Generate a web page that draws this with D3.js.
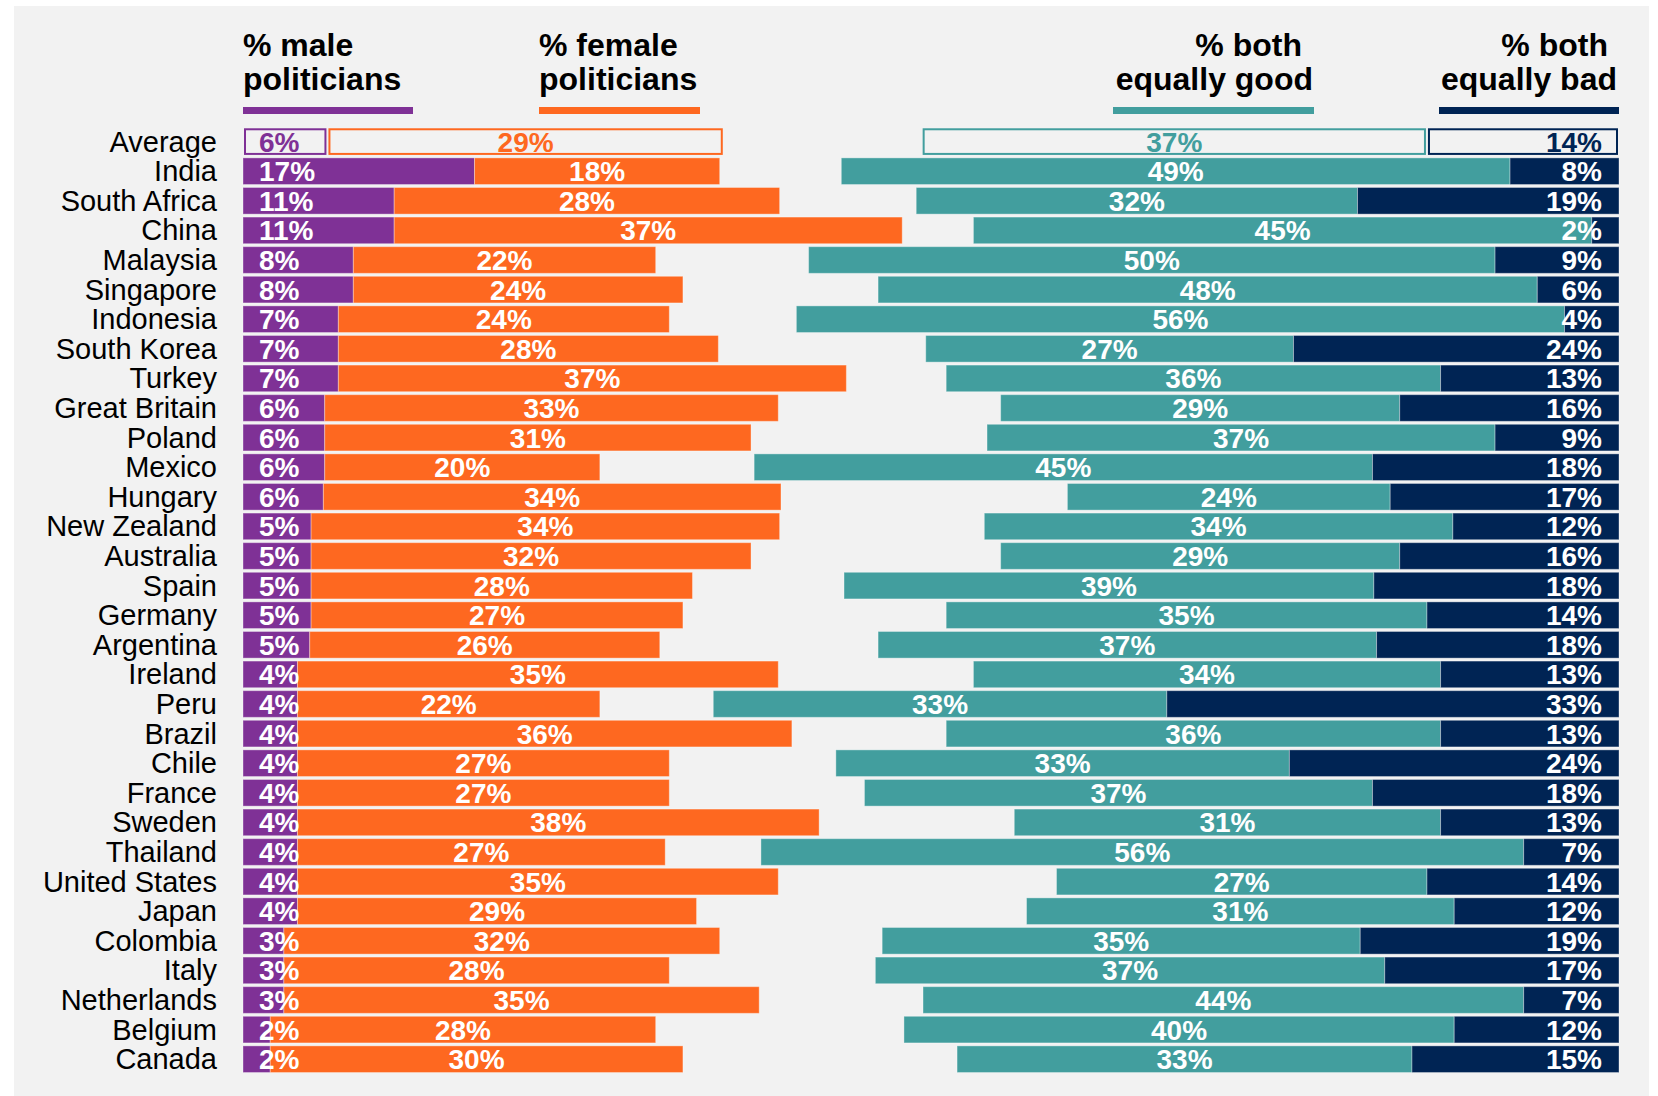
<!DOCTYPE html>
<html>
<head>
<meta charset="utf-8">
<script src="https://cdn.jsdelivr.net/npm/d3@7/dist/d3.min.js"></script>
<style>
body { margin: 0; background: #ffffff; }
svg { display: block; font-family: "Liberation Sans", Arial, Helvetica, sans-serif; }
</style>
</head>
<body>
<div id="chart"></div>
<script>
// rows, top to bottom (first row is the average, drawn as outlined boxes)
var countries = ["Average", "India", "South Africa", "China", "Malaysia", "Singapore", "Indonesia",
	"South Korea", "Turkey", "Great Britain", "Poland", "Mexico", "Hungary", "New Zealand",
	"Australia", "Spain", "Germany", "Argentina", "Ireland", "Peru", "Brazil", "Chile", "France",
	"Sweden", "Thailand", "United States", "Japan", "Colombia", "Italy", "Netherlands", "Belgium", "Canada"];

var male   = [6.2, 17.0, 11.1, 11.1, 8.1, 8.1, 7.0, 7.0, 7.0, 6.0, 6.0, 6.0, 5.9, 5.0, 5.0, 5.0, 5.0,
	4.9, 4.0, 4.0, 4.0, 4.0, 4.0, 4.0, 4.0, 4.0, 4.0, 3.0, 3.0, 3.0, 2.0, 2.0];
var female = [29.1, 18.0, 28.3, 37.3, 22.2, 24.2, 24.3, 27.9, 37.3, 33.3, 31.3, 20.2, 33.6, 34.4, 32.3,
	28.0, 27.3, 25.7, 35.3, 22.2, 36.3, 27.3, 27.3, 38.3, 27.0, 35.3, 29.3, 32.0, 28.3, 34.9, 28.3, 30.3];
var good   = [37.1, 49.1, 32.4, 45.4, 50.4, 48.4, 56.4, 27.0, 36.3, 29.3, 37.3, 45.4, 23.7, 34.4, 29.3,
	38.9, 35.3, 36.6, 34.3, 33.3, 36.3, 33.3, 37.3, 31.3, 56.0, 27.2, 31.4, 35.1, 37.4, 44.1, 40.4, 33.4];
var bad    = [14.1, 8.0, 19.2, 2.0, 9.1, 6.0, 4.0, 23.9, 13.1, 16.1, 9.1, 18.1, 16.8, 12.2, 16.1,
	18.0, 14.1, 17.8, 13.1, 33.2, 13.1, 24.2, 18.1, 13.1, 7.0, 14.1, 12.1, 19.0, 17.2, 7.0, 12.1, 15.2];

var seriesNames = [["% male", "politicians"], ["% female", "politicians"],
	["% both", "equally good"], ["% both", "equally bad"]];
var seriesColors = ["#7f3196", "#fe6820", "#429e9e", "#002454"];

var W = 1658, H = 1096;
var bg = "#f2f2f2";
var labelSize = 28;

var svg = d3.select("#chart").append("svg")
	.attr("width", W)
	.attr("height", H);

svg.append("rect")
	.attr("x", 14).attr("y", 6)
	.attr("width", 1635).attr("height", H - 6)
	.attr("fill", bg);

// left block grows from the left edge, right block grows from the right edge
var xl = d3.scaleLinear().domain([0, 100]).range([243, 243 + 1362]);
var xr = d3.scaleLinear().domain([0, 100]).range([1619, 1619 - 1362]);
var y = d3.scaleBand()
	.domain(countries)
	.range([126.8, 126.8 + countries.length * 29.6])
	.paddingInner(0.1)
	.paddingOuter(0.05);

function build_segments() {
	var segs = [];
	countries.forEach(function(c, i) {
		var m = male[i], f = female[i], g = good[i], b = bad[i];
		segs.push({row: c, i: i, s: 0, v: m, x0: xl(0), x1: xl(m), anchor: "start", tx: xl(0) + 16});
		segs.push({row: c, i: i, s: 1, v: f, x0: xl(m), x1: xl(m + f), anchor: "middle", tx: (xl(m) + xl(m + f)) / 2});
		segs.push({row: c, i: i, s: 2, v: g, x0: xr(b + g), x1: xr(b), anchor: "middle", tx: (xr(b + g) + xr(b)) / 2});
		segs.push({row: c, i: i, s: 3, v: b, x0: xr(b), x1: xr(0), anchor: "end", tx: xr(0) - 17});
	});
	return segs;
};

function draw_headers() {
	// header text positions / alignment
	var pos = [
		{x: [243, 243], anchor: "start", line: [243, 413]},
		{x: [539, 539], anchor: "start", line: [539, 700]},
		{x: [1302, 1313], anchor: "end", line: [1113, 1314]},
		{x: [1608, 1617], anchor: "end", line: [1439, 1619]}
	];
	seriesNames.forEach(function(lines, k) {
		var p = pos[k];
		lines.forEach(function(t, j) {
			svg.append("text")
				.attr("x", p.x[j])
				.attr("y", 56 + j * 34)
				.attr("text-anchor", p.anchor)
				.attr("font-size", 32)
				.attr("font-weight", "bold")
				.attr("fill", "#000")
				.text(t);
		});
		svg.append("rect")
			.attr("x", p.line[0]).attr("y", 107)
			.attr("width", p.line[1] - p.line[0]).attr("height", 7)
			.attr("fill", seriesColors[k]);
	});
};

function draw_rows(segs) {
	svg.append("g")
		.selectAll("text")
		.data(countries)
		.enter()
		.append("text")
		.attr("x", 217)
		.attr("y", function(d) { return y(d) + y.bandwidth() / 2 + 10; })
		.attr("text-anchor", "end")
		.attr("font-size", 29)
		.attr("fill", "#000")
		.text(function(d) { return d; });

	svg.append("g")
		.selectAll("rect")
		.data(segs)
		.enter()
		.append("rect")
		.attr("x", function(d) { return d.i == 0 ? d.x0 + 2 : d.x0; })
		.attr("y", function(d) { return d.i == 0 ? y(d.row) + 1 : y(d.row); })
		.attr("width", function(d) { return d.i == 0 ? d.x1 - d.x0 - 4 : d.x1 - d.x0; })
		.attr("height", function(d) { return d.i == 0 ? y.bandwidth() - 2 : y.bandwidth(); })
		.attr("fill", function(d) { return d.i == 0 ? bg : seriesColors[d.s]; })
		.attr("stroke", function(d) { return d.i == 0 ? seriesColors[d.s] : "#ffffff"; })
		.attr("stroke-opacity", function(d) { return d.i == 0 ? 1 : 0.35; })
		.attr("stroke-width", function(d) { return d.i == 0 ? 2 : 1; });

	svg.append("g")
		.selectAll("text")
		.data(segs)
		.enter()
		.append("text")
		.attr("x", function(d) { return d.tx; })
		.attr("y", function(d) { return y(d.row) + y.bandwidth() / 2 + 10; })
		.attr("text-anchor", function(d) { return d.anchor; })
		.attr("font-size", labelSize)
		.attr("font-weight", "bold")
		.attr("fill", function(d) { return d.i == 0 ? seriesColors[d.s] : "#ffffff"; })
		.text(function(d) { return Math.round(d.v) + "%"; });
};

function main() {
	draw_headers();
	draw_rows(build_segments());
};

main()
</script>
</body>
</html>
